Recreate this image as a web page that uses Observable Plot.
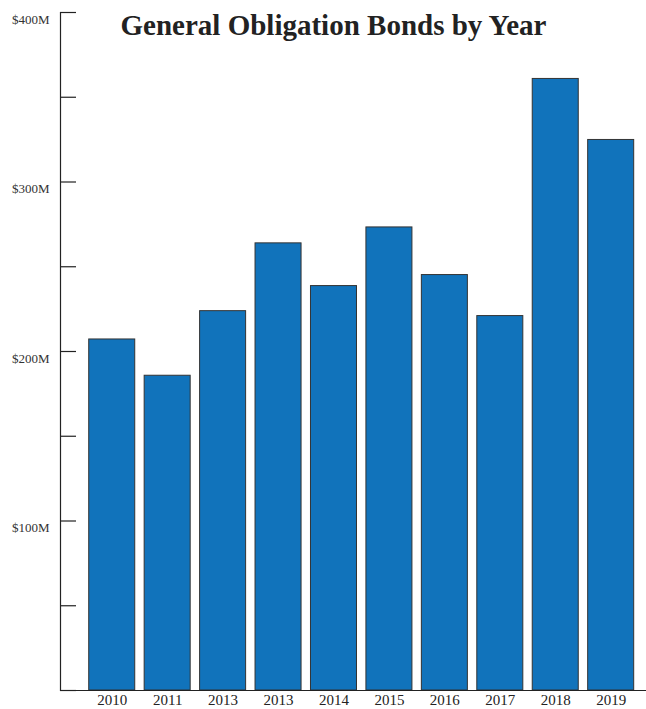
<!DOCTYPE html>
<html><head><meta charset="utf-8">
<script src="https://cdn.jsdelivr.net/npm/d3@7"></script>
<script src="https://cdn.jsdelivr.net/npm/@observablehq/plot@0.6"></script>
<style>body{margin:0;background:#fff}</style>
</head><body><div id="chart"></div>
<script>
const title = "General Obligation Bonds by Year";
const years = ["2010","2011","2013","2013","2014","2015","2016","2017","2018","2019"];
const bonds = [207.1,185.7,223.8,263.8,238.6,273.2,245.1,220.9,360.8,324.8]; // $ millions
const yTicksLabeled = [100,200,300,400];
const yTicksAll = [0,50,100,150,200,250,300,350,400];
const yDomain = [0,400];

const data = years.map((year,i)=>({i, year, value:bonds[i]}));
const serif = "'Liberation Serif', 'DejaVu Serif', serif";

const chart = Plot.plot({
  width:646, height:709,
  marginTop:12, marginBottom:19, marginLeft:60, marginRight:0,
  style:{fontFamily:serif, color:"#222", background:"#fff", overflow:"visible"},
  x:{type:"band", domain:d3.range(years.length), paddingInner:0.17, paddingOuter:0.37, align:0.7, round:false, axis:null, label:null},
  y:{domain:yDomain, axis:null, label:null},
  marks:[
    Plot.barY(data,{x:"i", y:"value", fill:"#1173bb", stroke:"#333", strokeWidth:1}),
    // x tick labels
    Plot.text(data, {x:"i", text:"year", frameAnchor:"bottom", lineAnchor:"top", dy:4, fontSize:15, fill:"#222"}),
    // y ticks (inward)
    Plot.axisY({ticks:yTicksAll, tickSize:-16, fill:"none", label:null, stroke:"#222", strokeWidth:1.2}),
    // y tick labels
    Plot.text(yTicksLabeled, {y:d=>d, text:d=>`$${d}M`, frameAnchor:"left", textAnchor:"end", dx:-11, dy:7, fontSize:13, fill:"#333"}),
    Plot.frame({anchor:"left", stroke:"#222", strokeWidth:1.2}),
    Plot.ruleY([0], {stroke:"#222", strokeWidth:1.2}),
    Plot.text([title], {frameAnchor:"top", dx:-20, dy:2, fontSize:29, fontWeight:"bold", fill:"#222"})
  ]
});
document.getElementById("chart").append(chart);
</script>
</body></html>
